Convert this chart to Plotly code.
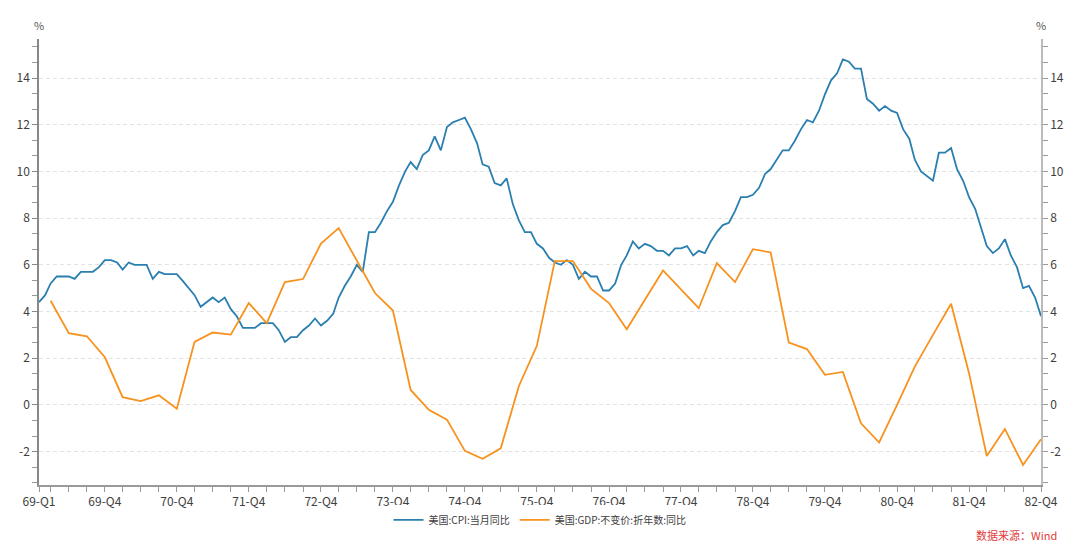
import plotly.graph_objects as go

# ---------------- data ----------------
years = list(range(1969, 1983))
cpi_by_year = {
    1969: [4.4, 4.7, 5.2, 5.5, 5.5, 5.5, 5.4, 5.7, 5.7, 5.7, 5.9, 6.2],
    1970: [6.2, 6.1, 5.8, 6.1, 6.0, 6.0, 6.0, 5.4, 5.7, 5.6, 5.6, 5.6],
    1971: [5.3, 5.0, 4.7, 4.2, 4.4, 4.6, 4.4, 4.6, 4.1, 3.8, 3.3, 3.3],
    1972: [3.3, 3.5, 3.5, 3.5, 3.2, 2.7, 2.9, 2.9, 3.2, 3.4, 3.7, 3.4],
    1973: [3.6, 3.9, 4.6, 5.1, 5.5, 6.0, 5.7, 7.4, 7.4, 7.8, 8.3, 8.7],
    1974: [9.4, 10.0, 10.4, 10.1, 10.7, 10.9, 11.5, 10.9, 11.9, 12.1, 12.2, 12.3],
    1975: [11.8, 11.2, 10.3, 10.2, 9.5, 9.4, 9.7, 8.6, 7.9, 7.4, 7.4, 6.9],
    1976: [6.7, 6.3, 6.1, 6.0, 6.2, 6.0, 5.4, 5.7, 5.5, 5.5, 4.9, 4.9],
    1977: [5.2, 6.0, 6.4, 7.0, 6.7, 6.9, 6.8, 6.6, 6.6, 6.4, 6.7, 6.7],
    1978: [6.8, 6.4, 6.6, 6.5, 7.0, 7.4, 7.7, 7.8, 8.3, 8.9, 8.9, 9.0],
    1979: [9.3, 9.9, 10.1, 10.5, 10.9, 10.9, 11.3, 11.8, 12.2, 12.1, 12.6, 13.3],
    1980: [13.9, 14.2, 14.8, 14.7, 14.4, 14.4, 13.1, 12.9, 12.6, 12.8, 12.6, 12.5],
    1981: [11.8, 11.4, 10.5, 10.0, 9.8, 9.6, 10.8, 10.8, 11.0, 10.1, 9.6, 8.9],
    1982: [8.4, 7.6, 6.8, 6.5, 6.7, 7.1, 6.4, 5.9, 5.0, 5.1, 4.6, 3.8],
}
gdp_by_year = {
    1969: [4.46, 3.07, 2.94, 2.04],
    1970: [0.33, 0.16, 0.41, -0.16],
    1971: [2.70, 3.10, 3.01, 4.36],
    1972: [3.50, 5.26, 5.39, 6.91],
    1973: [7.57, 6.20, 4.79, 4.04],
    1974: [0.64, -0.21, -0.63, -1.97],
    1975: [-2.31, -1.86, 0.81, 2.53],
    1976: [6.16, 6.16, 4.97, 4.36],
    1977: [3.24, 4.50, 5.76, 4.95],
    1978: [4.14, 6.07, 5.26, 6.67],
    1979: [6.53, 2.67, 2.39, 1.29],
    1980: [1.41, -0.79, -1.61, 0.00],
    1981: [1.64, 3.00, 4.33, 1.36],
    1982: [-2.19, -1.03, -2.57, -1.47],
}

cpi_dates = [f"{y}-{m:02d}-01" for y in years for m in range(1, 13)]
cpi_vals = [v for y in years for v in cpi_by_year[y]]
gdp_dates = [f"{y}-{m:02d}-01" for y in years for m in (3, 6, 9, 12)]
gdp_vals = [v for y in years for v in gdp_by_year[y]]

x_tick_dates = ["1969-01-01"] + gdp_dates
x_tick_text = ["69-Q1"] + [f"{str(y)[2:]}-Q4" if m == 12 else ""
                           for y in years for m in (3, 6, 9, 12)]
y_tick_vals = [-2, 0, 2, 4, 6, 8, 10, 12, 14]
y_tick_text = [str(v) for v in y_tick_vals]

cpi_name = "美国:CPI:当月同比"
gdp_name = "美国:GDP:不变价:折年数:同比"
blue = "#2a7fb0"
orange = "#f7921e"
font_family = "Noto Sans CJK SC, Open Sans, sans-serif"
y_range = [-3.43, 15.67]

fig = go.Figure()
fig.add_trace(go.Scatter(x=cpi_dates, y=cpi_vals, mode="lines", name=cpi_name,
                         line=dict(color=blue, width=1.8), yaxis="y"))
fig.add_trace(go.Scatter(x=gdp_dates, y=gdp_vals, mode="lines", name=gdp_name,
                         line=dict(color=orange, width=1.8), yaxis="y2"))

yaxis_common = dict(
    range=y_range, tickmode="array", tickvals=y_tick_vals, ticktext=y_tick_text,
    ticks="outside", ticklen=5, tickwidth=1,
    tickfont=dict(family=font_family, size=12, color="#404040"),
    minor=dict(tick0=0, dtick=2 / 3, ticks="outside", ticklen=5,
               tickcolor="#999999", showgrid=False),
    zeroline=False, showline=True, linewidth=1.5,
)

fig.update_layout(
    width=1080, height=549,
    margin=dict(l=39, r=39, t=39, b=64, autoexpand=False),
    paper_bgcolor="white", plot_bgcolor="white",
    font=dict(family=font_family, color="#404040"),
    showlegend=True,
    legend=dict(orientation="h", x=0.5, xanchor="center", y=-0.078,
                yanchor="middle", font=dict(size=10, color="#404040"),
                itemwidth=30, traceorder="normal"),
    xaxis=dict(
        type="date", range=["1969-01-01", "1982-12-01"],
        tickmode="array", tickvals=x_tick_dates, ticktext=x_tick_text,
        ticks="outside", ticklen=5, tickcolor="#999999",
        tickfont=dict(family=font_family, size=12, color="#404040"),
        showline=True, linecolor="#999999", linewidth=1.5,
        showgrid=False, zeroline=False,
    ),
    yaxis=dict(**yaxis_common, side="left", linecolor="#888888", tickcolor="#888888",
               showgrid=True, gridcolor="#e3e3e3", griddash="4px,3px", gridwidth=1),
    yaxis2=dict(**yaxis_common, side="right", overlaying="y", linecolor="#bbbbbb",
                tickcolor="#999999", showgrid=False),
)

fig.add_annotation(x=0, xref="paper", y=1, yref="paper", text="%", showarrow=False,
                   xanchor="center", yanchor="bottom", yshift=4,
                   font=dict(size=11, color="#555555"))
fig.add_annotation(x=1, xref="paper", y=1, yref="paper", text="%", showarrow=False,
                   xanchor="center", yanchor="bottom", yshift=4,
                   font=dict(size=11, color="#555555"))
fig.add_annotation(x=1, xref="paper", y=0, yref="paper", text="数据来源：Wind",
                   showarrow=False, xanchor="right", yanchor="middle",
                   xshift=18, yshift=-50,
                   font=dict(size=11, color="#e23a3a"))

fig.write_html("out.html")
